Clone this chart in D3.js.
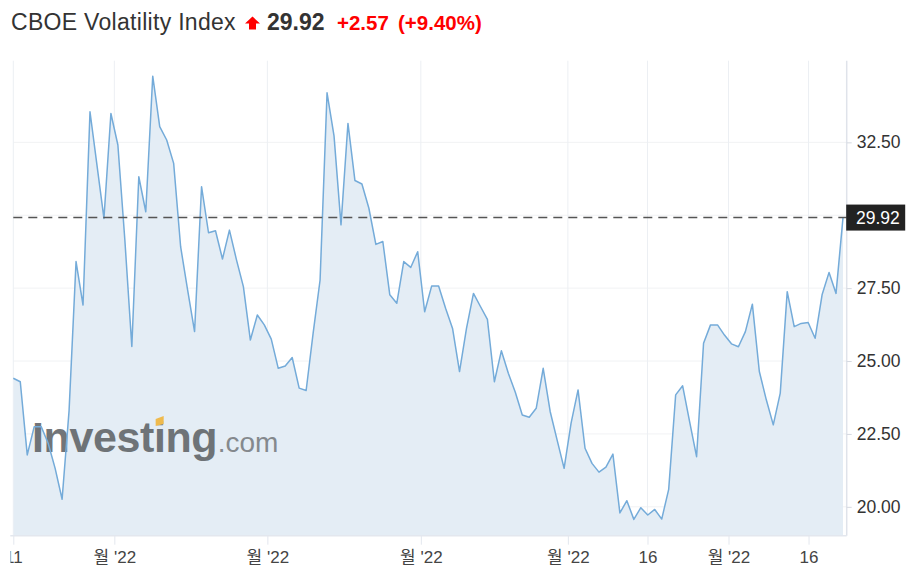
<!DOCTYPE html>
<html>
<head>
<meta charset="utf-8">
<script src="https://cdn.jsdelivr.net/npm/d3@7"></script>
<style>
  html, body { margin: 0; padding: 0; background: #fff; }
  svg { display: block; font-family: "Liberation Sans", Arial, sans-serif; }
</style>
</head>
<body>
<svg id="chart" width="917" height="574"></svg>
<script>
// ---- data ----
const values = [
  24.41, 24.29, 21.78, 22.75, 22.75, 22.18, 21.32, 20.26, 23.3, 28.41,
  26.92, 33.55, 31.72, 29.89, 33.49, 32.41, 29.15, 25.5, 31.32, 30.12,
  34.77, 33.04, 32.58, 31.78, 28.92, 27.44, 26.01, 30.98, 29.4, 29.47,
  28.5, 29.49, 28.48, 27.55, 25.72, 26.58, 26.24, 25.75, 24.75, 24.83,
  25.12, 24.07, 23.99, 25.95, 27.78, 34.2, 32.72, 29.67, 33.15, 31.19,
  31.07, 30.24, 29.0, 29.1, 27.27, 26.98, 28.41, 28.21, 28.75, 26.69,
  27.57, 27.57, 26.81, 26.12, 24.64, 26.12, 27.32, 26.87, 26.43, 24.29,
  25.35, 24.58, 23.93, 23.15, 23.07, 23.38, 24.75, 23.27, 22.29, 21.32,
  22.87, 24.01, 22.01, 21.49, 21.19, 21.36, 21.81, 19.79, 20.21, 19.57,
  19.97, 19.72, 19.91, 19.58, 20.6, 23.84, 24.15, 22.92, 21.72, 25.61,
  26.24, 26.24, 25.89, 25.59, 25.49, 26.01, 26.95, 24.64, 23.67, 22.81,
  23.9, 27.38, 26.18, 26.29, 26.32, 25.78, 27.27, 28.04, 27.32, 29.92
];
const xTickPositions = [0, 14.49, 36.44, 58.45, 79.54, 90.96, 102.58, 114.06];
const xTickLabels = ["11", "월 '22", "월 '22", "월 '22", "월 '22", "16", "월 '22", "16"];
const yGrid = [20, 22.5, 25, 27.5, 30, 32.5];
const yTickLabels = [20, 22.5, 25, 27.5, 32.5]; // 30.00 hidden behind the last-price box
const title = "CBOE Volatility Index";
const lastPrice = "29.92";
const change = "+2.57";
const changePct = "(+9.40%)";

// ---- layout ----
const L = 13.3, R = 846.7, T = 60.7, B = 535.7;
const svg = d3.select("#chart");

const x = d3.scaleLinear().domain([0, values.length - 1]).range([L, 843]);
const y = d3.scaleLinear().domain([19.01, 35.3]).range([B, T]);

const defs = svg.append("defs");
defs.append("clipPath").attr("id", "plotclip")
  .append("rect").attr("x", L).attr("y", T).attr("width", R - L).attr("height", B - T);
defs.append("clipPath").attr("id", "xclip")
  .append("rect").attr("x", 10.5).attr("y", B - 2).attr("width", 917).attr("height", 574 - B + 2);

// horizontal grid
svg.append("g").selectAll("line").data(yGrid).join("line")
  .attr("x1", L).attr("x2", R)
  .attr("y1", d => y(d)).attr("y2", d => y(d))
  .attr("stroke", "#f1f2f4").attr("stroke-width", 1);

// vertical grid
svg.append("g").selectAll("line").data(xTickPositions).join("line")
  .attr("x1", d => x(d)).attr("x2", d => x(d))
  .attr("y1", T).attr("y2", B)
  .attr("stroke", "#eceff3").attr("stroke-width", 1);

// area
const area = d3.area().x((d, i) => x(i)).y0(B).y1(d => y(d));
svg.append("path").datum(values)
  .attr("d", area)
  .attr("fill", "#e4edf5")
  .attr("clip-path", "url(#plotclip)");

// watermark
const wm = svg.append("g").attr("opacity", 0.85);
const wmText = wm.append("text")
  .attr("x", 32).attr("y", 452)
  .attr("font-size", 43).attr("font-weight", "bold")
  .attr("letter-spacing", -0.4)
  .attr("fill", "#5a5e62")
  .text("Investing");
const wmW = wmText.node().getComputedTextLength();
wm.append("text")
  .attr("x", 32 + wmW + 0.5).attr("y", 452)
  .attr("font-size", 28)
  .attr("fill", "#74787c")
  .text(".com");
try {
  const ext = wmText.node().getExtentOfChar(6);
  const cx = ext.x + ext.width / 2;
  wm.append("path")
    .attr("d", `M${cx - 4},${419} L${cx + 4},${416} L${cx + 4},${424} L${cx - 4},${426} Z`)
    .attr("fill", "#f2b230");
} catch (e) {}

// line
const line = d3.line().x((d, i) => x(i)).y(d => y(d));
svg.append("path").datum(values)
  .attr("d", line)
  .attr("fill", "none")
  .attr("stroke", "#74abd9")
  .attr("stroke-width", 1.5)
  .attr("stroke-linejoin", "round");

// axes borders
svg.append("line").attr("x1", R).attr("x2", R).attr("y1", T).attr("y2", B)
  .attr("stroke", "#dfe3ea").attr("stroke-width", 1.5);
svg.append("line").attr("x1", L - 3).attr("x2", R).attr("y1", B).attr("y2", B)
  .attr("stroke", "#e3e7ee").attr("stroke-width", 1.5);

// y axis (right)
const yAxis = d3.axisRight(y).tickValues(yTickLabels).tickSize(5).tickPadding(5)
  .tickFormat(d3.format(".2f"));
const yg = svg.append("g").attr("transform", `translate(${R},0)`).call(yAxis);
yg.select(".domain").remove();
yg.selectAll(".tick line").attr("stroke", "#d5d9e0");
yg.selectAll(".tick text")
  .attr("font-family", "Liberation Sans, Arial, sans-serif")
  .attr("font-size", 17.5).attr("fill", "#333");

// x axis (bottom)
const xAxis = d3.axisBottom(x).tickValues(xTickPositions).tickSize(9).tickPadding(6)
  .tickFormat((d, i) => xTickLabels[i]);
const xwrap = svg.append("g").attr("clip-path", "url(#xclip)");
const xg = xwrap.append("g").attr("transform", `translate(0,${B})`).call(xAxis);
xg.select(".domain").remove();
xg.selectAll(".tick line").attr("stroke", "#e3e7ee");
xg.selectAll(".tick text")
  .attr("font-family", "Liberation Sans, Arial, \"Noto Sans CJK KR\", sans-serif")
  .attr("font-size", 17).attr("fill", "#444");

// last price dashed line
const ly = y(values[values.length - 1]);
svg.append("line")
  .attr("x1", L).attr("x2", R)
  .attr("y1", ly).attr("y2", ly)
  .attr("stroke", "#555").attr("stroke-width", 1.5)
  .attr("stroke-dasharray", "9,6");

// last price label box
svg.append("rect")
  .attr("x", R - 0.5).attr("y", ly - 13).attr("width", 59).attr("height", 26)
  .attr("fill", "#222");
svg.append("text")
  .attr("x", 856).attr("y", ly).attr("dy", "0.35em")
  .attr("font-size", 17.5).attr("fill", "#fff")
  .text(lastPrice);

// title
svg.append("text").attr("x", 11).attr("y", 30)
  .attr("font-size", 23).attr("letter-spacing", 0.3).attr("fill", "#333").text(title);
// arrow
svg.append("path")
  .attr("d", "M252.5,16.5 L260,23.5 L256,23.5 L256,29.5 L249,29.5 L249,23.5 L245,23.5 Z")
  .attr("fill", "#f00");
svg.append("text").attr("x", 267).attr("y", 30)
  .attr("font-size", 23).attr("font-weight", "bold").attr("fill", "#333").text(lastPrice);
svg.append("text").attr("x", 337).attr("y", 30)
  .attr("font-size", 20.5).attr("font-weight", "bold").attr("fill", "#f00").text(change);
svg.append("text").attr("x", 398).attr("y", 30)
  .attr("font-size", 20.5).attr("font-weight", "bold").attr("fill", "#f00").text(changePct);
</script>
</body>
</html>
